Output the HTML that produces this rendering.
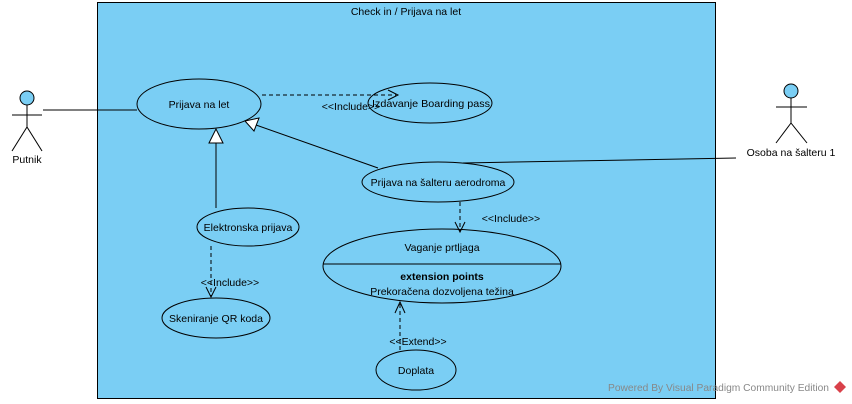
<!DOCTYPE html>
<html><head><meta charset="utf-8"><style>
html,body{margin:0;padding:0;background:#fff;width:852px;height:404px;overflow:hidden}
text{font-family:"Liberation Sans",sans-serif;font-size:10.5px;fill:#000}
</style></head><body>
<svg width="852" height="404" xmlns="http://www.w3.org/2000/svg">
<rect x="97.5" y="2.5" width="618" height="396" fill="#7acef4" stroke="#000" stroke-width="1"/>
<text x="406" y="15" text-anchor="middle">Check in / Prijava na let</text>
<g stroke="#000" fill="none" stroke-width="1">
<circle cx="27" cy="98" r="7" fill="#7acef4"/>
<line x1="27" y1="105" x2="27" y2="127"/><line x1="12" y1="115" x2="42" y2="115"/>
<line x1="27" y1="127" x2="12" y2="151"/><line x1="27" y1="127" x2="42" y2="151"/>
<circle cx="791" cy="91" r="7" fill="#7acef4"/>
<line x1="791" y1="98" x2="791" y2="123"/><line x1="776" y1="107" x2="807" y2="107"/>
<line x1="791" y1="123" x2="776" y2="143"/><line x1="791" y1="123" x2="807" y2="143"/>
<line x1="43" y1="110" x2="137" y2="110"/>
<line x1="463" y1="163" x2="736" y2="158"/>
<ellipse cx="199" cy="104" rx="62" ry="25" fill="#7acef4"/>
<ellipse cx="430" cy="103" rx="62" ry="20" fill="#7acef4"/>
<ellipse cx="438" cy="182" rx="76" ry="20" fill="#7acef4"/>
<ellipse cx="248" cy="227" rx="51" ry="19" fill="#7acef4"/>
<ellipse cx="442" cy="266" rx="119" ry="37" fill="#7acef4"/>
<line x1="323" y1="264" x2="561" y2="264"/>
<ellipse cx="216" cy="318" rx="54" ry="20" fill="#7acef4"/>
<ellipse cx="416" cy="370" rx="40" ry="20" fill="#7acef4"/>
<line x1="216" y1="208" x2="216" y2="143"/>
<polygon points="216,129 209,143 223,143" fill="#fff"/>
<line x1="378" y1="168" x2="256" y2="125"/>
<polygon points="245,121 259,118 254,131" fill="#fff"/>
<g stroke-dasharray="4,3">
<line x1="262" y1="95" x2="396" y2="95"/>
<line x1="460" y1="202" x2="460" y2="231"/>
<line x1="211" y1="246" x2="211" y2="297"/>
<line x1="400" y1="350" x2="400" y2="302"/>
</g>
<polyline points="388,90 398,95 388,100"/>
<polyline points="455,222 460,232 465,222"/>
<polyline points="206,287 211,297 216,287"/>
<polyline points="395,313 400,302 405,313"/>
</g>
<text x="351" y="110" text-anchor="middle" font-size="10">&lt;&lt;Include&gt;&gt;</text>
<text x="511" y="222" text-anchor="middle" font-size="10">&lt;&lt;Include&gt;&gt;</text>
<text x="230" y="286" text-anchor="middle" font-size="10">&lt;&lt;Include&gt;&gt;</text>
<text x="418" y="345" text-anchor="middle" font-size="10">&lt;&lt;Extend&gt;&gt;</text>
<text x="199" y="108" text-anchor="middle">Prijava na let</text>
<text x="431" y="107" text-anchor="middle" textLength="118" lengthAdjust="spacingAndGlyphs">Izdavanje Boarding pass</text>
<text x="438" y="186" text-anchor="middle">Prijava na šalteru aerodroma</text>
<text x="248" y="231" text-anchor="middle">Elektronska prijava</text>
<text x="442" y="251" text-anchor="middle">Vaganje prtljaga</text>
<text x="442" y="280" text-anchor="middle" font-weight="bold">extension points</text>
<text x="442" y="295" text-anchor="middle">Prekoračena dozvoljena težina</text>
<text x="216" y="322" text-anchor="middle">Skeniranje QR koda</text>
<text x="416" y="374" text-anchor="middle">Doplata</text>
<text x="27" y="163" text-anchor="middle">Putnik</text>
<text x="791" y="156" text-anchor="middle">Osoba na šalteru 1</text>
<text x="608" y="391" font-size="10" textLength="221" lengthAdjust="spacingAndGlyphs" style="fill:#888">Powered By  Visual Paradigm Community Edition</text>
<polygon points="840,381 846,387 840,393 834,387" fill="#d9414a"/>
</svg>
</body></html>
